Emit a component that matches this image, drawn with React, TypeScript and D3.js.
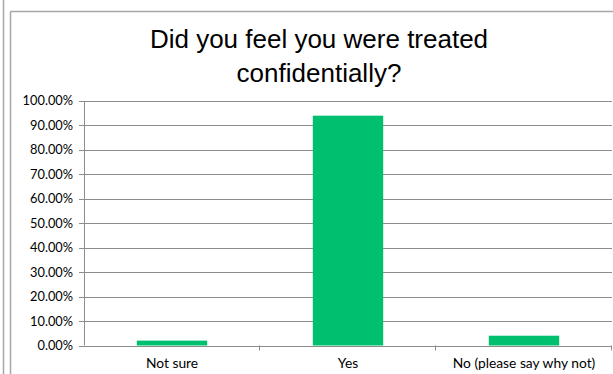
import React from "react";
import * as d3 from "d3";

const categories = ["Not sure", "Yes", "No (please say why not)"];
const shares = [0.02, 0.94, 0.04];
const yTicks = [0, 0.1, 0.2, 0.3, 0.4, 0.5, 0.6, 0.7, 0.8, 0.9, 1.0];
const titleLines = ["Did you feel you were treated", "confidentially?"];

const W = 613;
const H = 374;
const plot = { left: 84, right: 612, top: 101, bottom: 345.5 };

export default function App() {
  const x = d3
    .scaleBand<string>()
    .domain(categories)
    .range([plot.left, plot.right])
    .paddingInner(0.6)
    .paddingOuter(0.3);
  const band = d3.scaleBand<string>().domain(categories).range([plot.left, plot.right]);
  const y = d3.scaleLinear().domain([0, 1]).range([plot.bottom, plot.top]);
  const fmt = d3.format(".2%");
  const labelFont = "Lato, 'Open Sans', sans-serif";

  return (
    <svg
      width={W}
      height={H}
      style={{ position: "absolute", left: 0, top: 0, background: "#fff" }}
    >
      {/* outer frames */}
      <line x1={3.5} y1={0} x2={3.5} y2={H} stroke="#a6a6a6" strokeWidth={1.5} />
      <line x1={10.5} y1={11.5} x2={10.5} y2={H} stroke="#a6a6a6" strokeWidth={1.5} />
      <line x1={10.5} y1={11.5} x2={W} y2={11.5} stroke="#a6a6a6" strokeWidth={1.5} />

      {/* title */}
      <g
        fontFamily="'Liberation Sans', Arial, sans-serif"
        fontSize={26}
        fill="#000"
        textAnchor="middle"
      >
        {titleLines.map((t, i) => (
          <text key={t} x={319} y={48 + i * 34}>
            {t}
          </text>
        ))}
      </g>

      {/* gridlines and y ticks */}
      {yTicks.map((v) => (
        <g key={v}>
          <line
            x1={plot.left - 5}
            x2={plot.right}
            y1={Math.round(y(v)) + 0.5}
            y2={Math.round(y(v)) + 0.5}
            stroke="#8c8c8c"
            strokeWidth={1}
          />
          <text
            x={73}
            y={y(v)}
            dy="0.35em"
            textAnchor="end"
            fontFamily={labelFont}
            fontSize={12.8}
            fill="#000"
          >
            {fmt(v)}
          </text>
        </g>
      ))}

      {/* y axis line */}
      <line
        x1={plot.left + 0.5}
        x2={plot.left + 0.5}
        y1={plot.top}
        y2={plot.bottom}
        stroke="#8c8c8c"
      />

      {/* category ticks */}
      {categories.map((c) => {
        const xr = (band(c) ?? 0) + band.bandwidth();
        return (
          <line
            key={c}
            x1={Math.round(xr) - 0.5}
            x2={Math.round(xr) - 0.5}
            y1={plot.bottom}
            y2={plot.bottom + 5}
            stroke="#8c8c8c"
          />
        );
      })}

      {/* bars */}
      {categories.map((c, i) => (
        <rect
          key={c}
          x={x(c)}
          y={y(shares[i])}
          width={x.bandwidth()}
          height={plot.bottom - y(shares[i])}
          fill="#00bf6f"
        />
      ))}

      {/* category labels */}
      {categories.map((c) => (
        <text
          key={c}
          x={(band(c) ?? 0) + band.bandwidth() / 2}
          y={368}
          textAnchor="middle"
          fontFamily={labelFont}
          fontSize={13.8}
          fill="#000"
        >
          {c}
        </text>
      ))}
    </svg>
  );
}
